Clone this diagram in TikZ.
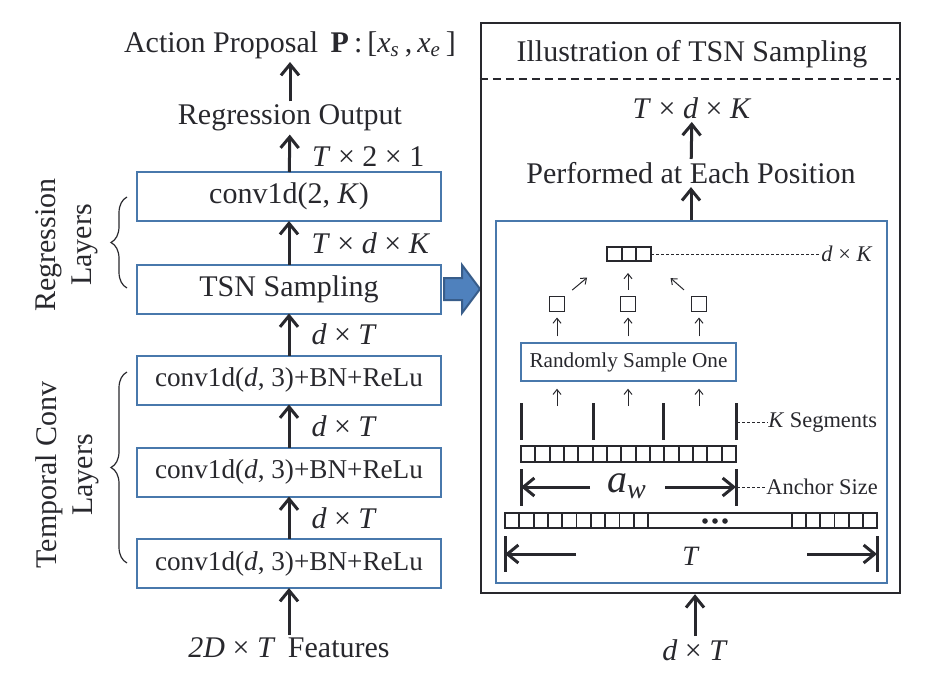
\documentclass[tikz,border=0pt]{standalone}
\usepackage{fontspec}
\setmainfont{Liberation Serif}
\usepackage{xcolor}
\usepackage{tikz}
\usetikzlibrary{arrows.meta,decorations.pathreplacing,calc,positioning}

\definecolor{ink}{RGB}{40,40,45}
\definecolor{boxblue}{RGB}{72,120,172}
\definecolor{arrowblue}{RGB}{79,129,189}
\definecolor{arrowedge}{RGB}{56,93,138}

\newcommand{\mainsize}{\fontsize{15}{18}\selectfont}
\newcommand{\boxsize}{\fontsize{13.6}{16}\selectfont}
\newcommand{\notesize}{\fontsize{11.2}{13}\selectfont}

\begin{document}
\begin{tikzpicture}[x=0.5pt,y=-0.5pt,
		every node/.style={text=ink},
		layer/.style={draw=boxblue, line width=1pt, minimum width=152pt, minimum height=24.5pt, inner sep=0pt, outer sep=0pt, font=\mainsize},
		txt/.style={inner sep=1.5pt, font=\mainsize},
		dimlabel/.style={anchor=west, inner sep=0pt, xshift=10.5pt, font=\mainsize},
		flow/.style={draw=ink, line width=1.5pt, -{Straight Barb[length=5.5pt,width=9pt]}},
		tiny/.style={draw=ink, line width=0.5pt, -{Straight Barb[length=2.5pt,width=4pt]}},
		cell/.style={draw=ink, line width=0.9pt, inner sep=0pt, outer sep=0pt},
		bar/.style={draw=ink, line width=1.5pt},
		leader/.style={draw=ink, line width=0.5pt, dash pattern=on 1.5pt off 1pt},
		layerbrace/.style={decorate, decoration={brace, amplitude=8pt}, draw=ink, line width=0.6pt}]
	\useasboundingbox (0,0) rectangle (930,674);

	\node[layer] (conv2) at (289,196.5) {conv1d(2, \textit{K})};
	\node[layer] (tsn) at (289,289) {TSN Sampling};
	\node[layer, font=\boxsize] (conv3a) at (289,380) {conv1d(\textit{d}, 3)+BN+ReLu};
	\node[layer, font=\boxsize] (conv3b) at (289,472) {conv1d(\textit{d}, 3)+BN+ReLu};
	\node[layer, font=\boxsize] (conv3c) at (289,563.5) {conv1d(\textit{d}, 3)+BN+ReLu};
	\node[txt] (regout) at (290,118) {Regression Output};
	\node[txt] (prop) at (290,45) {Action Proposal\, \textbf{P}\,:\,[\textit{x}\textsubscript{\textit{s}}\,,\,\textit{x}\textsubscript{\textit{e}}\,]};
	\node[txt] (feat) at (289,648) {\textit{2D} × \textit{T}\, Features};

	\draw[flow] (feat) -- (conv3c);
	\draw[flow] (conv3c) -- node[dimlabel] {\textit{d} × \textit{T}} (conv3b);
	\draw[flow] (conv3b) -- node[dimlabel] {\textit{d} × \textit{T}} (conv3a);
	\draw[flow] (conv3a) -- node[dimlabel] {\textit{d} × \textit{T}} (tsn);
	\draw[flow] (tsn) -- node[dimlabel] {\textit{T} × \textit{d} × \textit{K}} (conv2);
	\draw[flow] (conv2) -- node[dimlabel, yshift=-1.5pt] {\textit{T} × 2 × 1} (regout);
	\draw[flow] (regout) -- (prop);

	\draw[layerbrace] (127,288) -- (127,197);
	\draw[layerbrace] (127,563) -- (127,372);
	\node[rotate=90, align=center, font=\mainsize] (reglab) at (67,245) {Regression\\Layers};
	\node[rotate=90, align=center, font=\mainsize] (convlab) at (67,475) {Temporal Conv\\Layers};

	\draw[fill=arrowblue, draw=arrowedge, line width=1pt] ([xshift=1.5pt]tsn.east) ++(0,-11) -- ++(18,0) -- ++(0,-13) -- ++(18,24) -- ++(-18,24) -- ++(0,-13) -- ++(-18,0) -- cycle;

	\node[draw=ink, line width=1.2pt, minimum width=209.5pt, minimum height=285pt, inner sep=0pt] (panel) at (690.5,308) {};
	\coordinate (sep) at (0,79);
	\draw[ink, line width=0.8pt, dash pattern=on 4pt off 2.5pt] (panel.west |- sep) -- (panel.east |- sep);
	\node[txt] (title) at (692,54) {Illustration of TSN Sampling};
	\node[txt] (tdk) at (692,108) {\textit{T} × \textit{d} × \textit{K}};
	\node[txt] (perf) at (691,173) {Performed at Each Position};
	\node[draw=boxblue, line width=1pt, minimum width=195.5pt, minimum height=181pt, inner sep=0pt] (inner) at (691,402) {};
	\draw[flow] (inner) -- (perf);
	\draw[flow] (perf) -- (tdk);
	\node[txt] (dtin) at (695,650) {\textit{d} × \textit{T}};
	\draw[flow] (dtin) -- (dtin |- panel.south);

	\foreach \i in {1,2,3}
		\node[cell, minimum width=7.33pt, minimum height=7pt] (dk\i) at (599.67+\i*14.67,254) {};
	\node[anchor=west, inner sep=0pt, font=\notesize] (dklab) at (821,254) {\textit{d} × \textit{K}};
	\draw[leader] (dk3.east) -- (dklab.west);

	\foreach \i/\x in {1/557,2/628,3/699}
		\node[cell, minimum size=7.5pt] (s\i) at (\x,304) {};
	\draw[tiny, shorten <=5pt, shorten >=13pt] (s1.north east) -- (dk1.south west);
	\draw[tiny, shorten <=3.5pt, shorten >=6pt] (s2.north) -- (s2.north |- dk2.south);
	\draw[tiny, shorten <=5pt, shorten >=13pt] (s3.north west) -- (dk3.south east);

	\node[draw=boxblue, line width=0.7pt, minimum width=107.5pt, minimum height=19pt, inner sep=0pt, font=\fontsize{10.6}{12}\selectfont] (sample) at (628.5,362) {Randomly Sample One};
	\coordinate (segtop) at (0,406);
	\foreach \i in {1,2,3} {
		\draw[tiny, shorten <=3pt, shorten >=3pt] (sample.north -| s\i) -- (s\i);
		\draw[tiny, shorten >=3.5pt] (s\i |- segtop) -- (s\i |- sample.south);
	}

	\foreach \x in {521,593,663,736}
		\draw[bar] (\x,403) -- (\x,440);
	\coordinate (kmark) at (737,422);
	\node[anchor=west, inner sep=0pt, font=\notesize] (kseg) at (768,422) {\textit{K} Segments};
	\draw[leader] (kmark) -- (kseg.west);

	\foreach \i in {0,...,14}
		\draw[cell] (521+\i*14.333,446) rectangle ++(14.333,16);

	\draw[bar] (521,469) -- (521,506);
	\draw[bar] (736,469) -- (736,506);
	\node[inner sep=0pt] (aw) at (627,486) {\fontsize{20}{22}\selectfont\textit{a}\textsubscript{\textit{w}}};
	\coordinate (awl) at (590,487);
	\coordinate (awr) at (665,487);
	\draw[flow] (awl) -- (521,487);
	\draw[flow] (awr) -- (736,487);
	\coordinate (amark) at (737,487);
	\node[anchor=west, inner sep=0pt, font=\notesize] (asize) at (766,487) {Anchor Size};
	\draw[leader] (amark) -- (asize.west);

	\foreach \i in {0,...,9}
		\draw[cell] (505+\i*14.3,513) rectangle ++(14.3,15);
	\draw[cell] (648,513) rectangle (792,528);
	\foreach \i in {0,...,5}
		\draw[cell] (792+\i*14.167,513) rectangle ++(14.167,15);
	\foreach \x in {705,715,725}
		\fill[ink] (\x,521) circle (1.4pt);

	\draw[bar] (505,536) -- (505,572);
	\draw[bar] (877,536) -- (877,572);
	\node[inner sep=0pt, font=\fontsize{14}{16}\selectfont] (tlen) at (691,556) {\textit{T}};
	\coordinate (tl) at (576,554);
	\coordinate (tr) at (807,554);
	\draw[flow] (tl) -- (505,554);
	\draw[flow] (tr) -- (877,554);
\end{tikzpicture}
\end{document}
